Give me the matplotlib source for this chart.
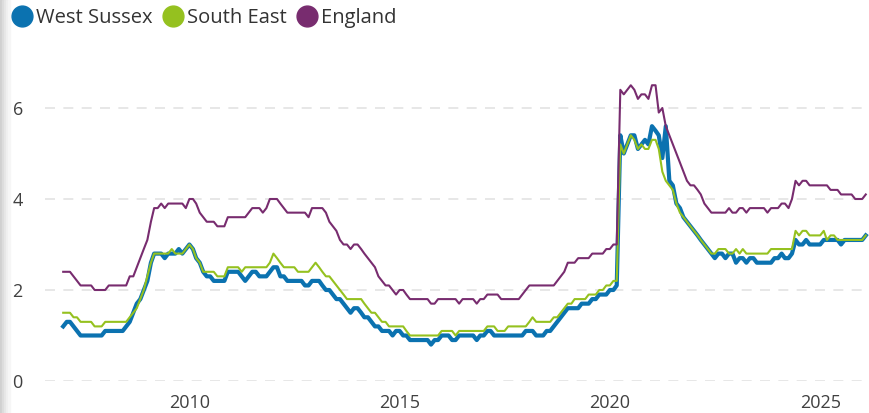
import matplotlib
matplotlib.use("Agg")
import matplotlib.pyplot as plt
import matplotlib.dates as mdates
from matplotlib.lines import Line2D
from matplotlib.patches import Rectangle
import pandas as pd

plt.rcParams["font.family"] = ["Open Sans", "DejaVu Sans"]

# monthly rate (%), Jan 2007 - Feb 2026
west_sussex = [
    1.2, 1.3, 1.3, 1.2, 1.1, 1.0, 1.0, 1.0, 1.0, 1.0, 1.0, 1.0,  # 2007
    1.1, 1.1, 1.1, 1.1, 1.1, 1.1, 1.2, 1.3, 1.5, 1.7, 1.8, 2.0,  # 2008
    2.2, 2.6, 2.8, 2.8, 2.8, 2.7, 2.8, 2.8, 2.8, 2.9, 2.8, 2.9,  # 2009
    3.0, 2.9, 2.7, 2.6, 2.4, 2.3, 2.3, 2.2, 2.2, 2.2, 2.2, 2.4,  # 2010
    2.4, 2.4, 2.4, 2.3, 2.2, 2.3, 2.4, 2.4, 2.3, 2.3, 2.3, 2.4,  # 2011
    2.5, 2.5, 2.3, 2.3, 2.2, 2.2, 2.2, 2.2, 2.2, 2.1, 2.1, 2.2,  # 2012
    2.2, 2.2, 2.1, 2.0, 2.0, 1.9, 1.8, 1.8, 1.7, 1.6, 1.5, 1.6,  # 2013
    1.6, 1.5, 1.4, 1.4, 1.3, 1.2, 1.2, 1.1, 1.1, 1.1, 1.0, 1.1,  # 2014
    1.1, 1.0, 1.0, 0.9, 0.9, 0.9, 0.9, 0.9, 0.9, 0.8, 0.9, 0.9,  # 2015
    1.0, 1.0, 1.0, 0.9, 0.9, 1.0, 1.0, 1.0, 1.0, 1.0, 0.9, 1.0,  # 2016
    1.0, 1.1, 1.1, 1.0, 1.0, 1.0, 1.0, 1.0, 1.0, 1.0, 1.0, 1.0,  # 2017
    1.1, 1.1, 1.1, 1.0, 1.0, 1.0, 1.1, 1.1, 1.2, 1.3, 1.4, 1.5,  # 2018
    1.6, 1.6, 1.6, 1.6, 1.7, 1.7, 1.7, 1.8, 1.8, 1.9, 1.9, 1.9,  # 2019
    2.0, 2.0, 2.1, 5.4, 5.0, 5.2, 5.4, 5.4, 5.1, 5.2, 5.3, 5.2,  # 2020
    5.6, 5.5, 5.4, 4.9, 5.6, 4.4, 4.3, 3.9, 3.8, 3.6, 3.5, 3.4,  # 2021
    3.3, 3.2, 3.1, 3.0, 2.9, 2.8, 2.7, 2.8, 2.8, 2.7, 2.8, 2.8,  # 2022
    2.6, 2.7, 2.7, 2.6, 2.7, 2.7, 2.6, 2.6, 2.6, 2.6, 2.6, 2.7,  # 2023
    2.7, 2.8, 2.7, 2.7, 2.8, 3.1, 3.0, 3.0, 3.1, 3.0, 3.0, 3.0,  # 2024
    3.0, 3.1, 3.1, 3.1, 3.1, 3.1, 3.0, 3.1, 3.1, 3.1, 3.1, 3.1,  # 2025
    3.1, 3.2,                                                    # 2026
]

south_east = [
    1.5, 1.5, 1.5, 1.4, 1.4, 1.3, 1.3, 1.3, 1.3, 1.2, 1.2, 1.2,
    1.3, 1.3, 1.3, 1.3, 1.3, 1.3, 1.3, 1.4, 1.5, 1.6, 1.8, 2.0,
    2.3, 2.6, 2.8, 2.8, 2.8, 2.8, 2.8, 2.9, 2.8, 2.8, 2.8, 2.9,
    3.0, 2.9, 2.7, 2.6, 2.4, 2.4, 2.4, 2.4, 2.3, 2.3, 2.3, 2.5,
    2.5, 2.5, 2.5, 2.4, 2.5, 2.5, 2.5, 2.5, 2.5, 2.5, 2.5, 2.6,
    2.8, 2.7, 2.6, 2.5, 2.5, 2.5, 2.5, 2.4, 2.4, 2.4, 2.4, 2.5,
    2.6, 2.5, 2.4, 2.3, 2.3, 2.2, 2.1, 2.0, 1.9, 1.8, 1.8, 1.8,
    1.8, 1.8, 1.7, 1.6, 1.5, 1.5, 1.4, 1.3, 1.3, 1.2, 1.2, 1.2,
    1.2, 1.2, 1.1, 1.0, 1.0, 1.0, 1.0, 1.0, 1.0, 1.0, 1.0, 1.0,
    1.1, 1.1, 1.1, 1.1, 1.0, 1.1, 1.1, 1.1, 1.1, 1.1, 1.1, 1.1,
    1.1, 1.2, 1.2, 1.2, 1.1, 1.1, 1.1, 1.2, 1.2, 1.2, 1.2, 1.2,
    1.2, 1.3, 1.4, 1.3, 1.3, 1.3, 1.3, 1.3, 1.4, 1.4, 1.5, 1.6,
    1.7, 1.7, 1.8, 1.8, 1.8, 1.8, 1.9, 1.9, 1.9, 2.0, 2.0, 2.1,
    2.1, 2.2, 2.2, 5.2, 5.0, 5.2, 5.4, 5.3, 5.1, 5.2, 5.1, 5.1,
    5.3, 5.3, 5.1, 4.6, 4.4, 4.3, 4.2, 3.9, 3.7, 3.6, 3.5, 3.4,
    3.3, 3.2, 3.1, 3.0, 2.9, 2.8, 2.8, 2.9, 2.9, 2.9, 2.8, 2.8,
    2.9, 2.8, 2.9, 2.8, 2.8, 2.8, 2.8, 2.8, 2.8, 2.8, 2.9, 2.9,
    2.9, 2.9, 2.9, 2.9, 2.9, 3.3, 3.2, 3.3, 3.3, 3.2, 3.2, 3.2,
    3.2, 3.3, 3.1, 3.2, 3.2, 3.1, 3.1, 3.1, 3.1, 3.1, 3.1, 3.1,
    3.1, 3.2,
]

england = [
    2.4, 2.4, 2.4, 2.3, 2.2, 2.1, 2.1, 2.1, 2.1, 2.0, 2.0, 2.0,
    2.0, 2.1, 2.1, 2.1, 2.1, 2.1, 2.1, 2.3, 2.3, 2.5, 2.7, 2.9,
    3.1, 3.5, 3.8, 3.8, 3.9, 3.8, 3.9, 3.9, 3.9, 3.9, 3.9, 3.8,
    4.0, 4.0, 3.9, 3.7, 3.6, 3.5, 3.5, 3.5, 3.4, 3.4, 3.4, 3.6,
    3.6, 3.6, 3.6, 3.6, 3.6, 3.7, 3.8, 3.8, 3.8, 3.7, 3.8, 4.0,
    4.0, 4.0, 3.9, 3.8, 3.7, 3.7, 3.7, 3.7, 3.7, 3.7, 3.6, 3.8,
    3.8, 3.8, 3.8, 3.7, 3.5, 3.4, 3.3, 3.1, 3.0, 3.0, 2.9, 3.0,
    3.0, 2.9, 2.8, 2.7, 2.6, 2.5, 2.3, 2.2, 2.1, 2.1, 2.0, 1.9,
    2.0, 2.0, 1.9, 1.8, 1.8, 1.8, 1.8, 1.8, 1.8, 1.7, 1.7, 1.8,
    1.8, 1.8, 1.8, 1.8, 1.8, 1.7, 1.8, 1.8, 1.8, 1.8, 1.7, 1.8,
    1.8, 1.9, 1.9, 1.9, 1.9, 1.8, 1.8, 1.8, 1.8, 1.8, 1.8, 1.9,
    2.0, 2.1, 2.1, 2.1, 2.1, 2.1, 2.1, 2.1, 2.1, 2.2, 2.3, 2.4,
    2.6, 2.6, 2.6, 2.7, 2.7, 2.7, 2.7, 2.8, 2.8, 2.8, 2.8, 2.9,
    2.9, 3.0, 3.0, 6.4, 6.3, 6.4, 6.5, 6.4, 6.2, 6.3, 6.3, 6.2,
    6.5, 6.5, 5.9, 6.0, 5.6, 5.4, 5.2, 5.0, 4.8, 4.6, 4.4, 4.3,
    4.3, 4.2, 4.1, 3.9, 3.8, 3.7, 3.7, 3.7, 3.7, 3.7, 3.8, 3.7,
    3.7, 3.8, 3.8, 3.7, 3.8, 3.8, 3.8, 3.8, 3.8, 3.7, 3.8, 3.8,
    3.8, 3.9, 3.9, 3.8, 4.0, 4.4, 4.3, 4.4, 4.4, 4.3, 4.3, 4.3,
    4.3, 4.3, 4.3, 4.2, 4.2, 4.2, 4.1, 4.1, 4.1, 4.1, 4.0, 4.0,
    4.0, 4.1,
]

series_names = ["West Sussex", "South East", "England"]
colors = ["#0b72b0", "#95c11f", "#782c6f"]
y_ticks = [0, 2, 4, 6]
x_tick_years = [2010, 2015, 2020, 2025]

dates = pd.date_range("2007-01-01", periods=len(west_sussex), freq="MS")

fig = plt.figure(figsize=(8.69, 4.13), dpi=100)
ax = fig.add_axes([45 / 869, 32 / 413, 1 - 45 / 869, (381 - 62.5) / 413])

ax.plot(dates, west_sussex, color=colors[0], lw=3.0, solid_joinstyle="round", zorder=3)
ax.plot(dates, south_east, color=colors[1], lw=1.5, zorder=4)
ax.plot(dates, england, color=colors[2], lw=1.5, zorder=5)

ax.set_ylim(0, 7)
ax.set_xlim(pd.Timestamp("2006-07-27"), pd.Timestamp("2026-03-01"))
ax.set_yticks(y_ticks)
ax.set_xticks([pd.Timestamp(f"{y}-01-01") for y in x_tick_years])
ax.xaxis.set_major_formatter(mdates.DateFormatter("%Y"))

for s in ax.spines.values():
    s.set_visible(False)
ax.grid(axis="y", color="#e3e3e3", linestyle=(0, (6, 5)), linewidth=1.2)
ax.set_axisbelow(True)
ax.tick_params(axis="y", length=0, pad=16, labelsize=13, labelcolor="#404040")
ax.tick_params(axis="x", length=0, pad=9, labelsize=13, labelcolor="#404040")

handles = [Line2D([], [], marker="o", linestyle="none", markersize=15, color=c) for c in colors]
fig.legend(handles, series_names, loc="center left", bbox_to_anchor=(13 / 869, 1 - 18 / 413),
           ncol=3, frameon=False, fontsize=14.5, handlelength=0.9, handletextpad=0.25,
           columnspacing=0.55, labelcolor="#333333", borderpad=0, borderaxespad=0)

# faint panel edge on the left
for i, c in enumerate(["#d0d0d0", "#dcdcdc", "#e6e6e6", "#efefef", "#f6f6f6"]):
    fig.patches.append(Rectangle((i * 2 / 869, 0), 2 / 869, 1, transform=fig.transFigure,
                                 color=c, zorder=0))

fig.savefig("out.png", dpi=100)
